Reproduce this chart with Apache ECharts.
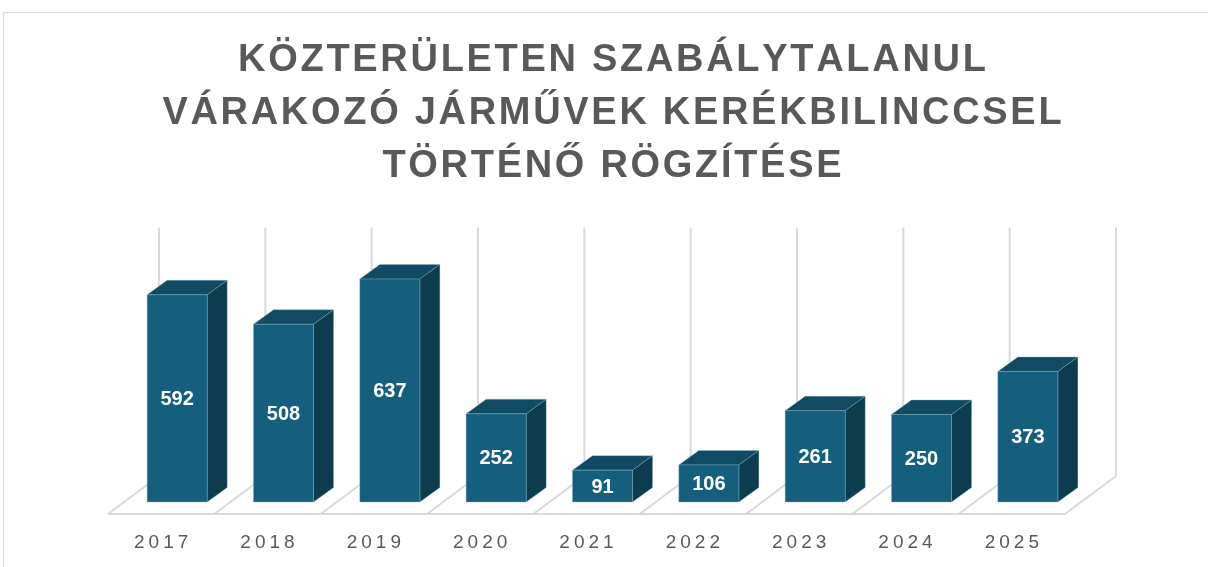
<!DOCTYPE html>
<html>
<head>
<meta charset="utf-8">
<title>Kerékbilincs</title>
<script src="https://cdn.jsdelivr.net/npm/echarts@6/dist/echarts.min.js"></script>
<style>
  html, body { margin: 0; padding: 0; background: #fff; }
  #chart { width: 1208px; height: 567px; }
</style>
</head>
<body>
<div id="chart"></div>
<script>
// adatok
var titleLines = ['KÖZTERÜLETEN SZABÁLYTALANUL', 'VÁRAKOZÓ JÁRMŰVEK KERÉKBILINCCSEL', 'TÖRTÉNŐ RÖGZÍTÉSE'];
var years = ['2017', '2018', '2019', '2020', '2021', '2022', '2023', '2024', '2025'];
var counts = [592, 508, 637, 252, 91, 106, 261, 250, 373];
var yMax = 710;

// 3D hatas: eltolasok a rudak sikjahoz kepest (px)
var FLOOR_FRONT = [-16, 12];
var FLOOR_BACK = [35, -26];
var BAR_DEPTH = [20, -14.5];

var FONT = 'Liberation Sans, Arial, sans-serif';
var GRID_COLOR = '#d9d9d9';
var FACE_COLOR = '#155f7e';
var TOP_COLOR = '#104a63';
var SIDE_COLOR = '#0c3c4e';

// betuk koze ritkitas rich text tokenekkel
function spaced(text, style) {
    return text.split('').map(function (c) {
        return '{' + style + '|' + c + '}';
    }).join('');
}

(function () {

var chart = echarts.init(document.getElementById('chart'));

// padlo es hatso fal vonalai
function renderFloor(params, api) {
    var i = api.value(0);
    var slot = api.size([1, 0])[0];
    var base = api.coord([i, 0]);
    var topY = api.coord([i, yMax])[1];
    var lineStyle = { stroke: GRID_COLOR, lineWidth: 2 };
    var children = [];

    function boundary(x) {
        children.push({
            type: 'line',
            shape: { x1: x + FLOOR_FRONT[0], y1: base[1] + FLOOR_FRONT[1], x2: x + FLOOR_BACK[0], y2: base[1] + FLOOR_BACK[1] },
            style: lineStyle
        });
        children.push({
            type: 'line',
            shape: { x1: x + FLOOR_BACK[0], y1: base[1] + FLOOR_BACK[1], x2: x + FLOOR_BACK[0], y2: topY + FLOOR_BACK[1] },
            style: lineStyle
        });
    }

    boundary(base[0] - slot / 2);
    if (i === years.length - 1) {
        boundary(base[0] + slot / 2);
    }
    if (i === 0) {
        var cs = params.coordSys;
        children.push({
            type: 'line',
            shape: { x1: cs.x + FLOOR_FRONT[0], y1: base[1] + FLOOR_FRONT[1], x2: cs.x + cs.width + FLOOR_FRONT[0], y2: base[1] + FLOOR_FRONT[1] },
            style: lineStyle
        });
    }
    return { type: 'group', children: children };
}

// hasab alaku rud
function renderBar(params, api) {
    var i = api.value(0), v = api.value(1);
    var base = api.coord([i, 0]);
    var top = api.coord([i, v]);
    var w = api.size([1, 0])[0] * 0.565;
    var x0 = base[0] - w / 2, x1 = base[0] + w / 2;
    var yb = base[1], yt = top[1];
    var dx = BAR_DEPTH[0], dy = BAR_DEPTH[1];
    var edge = 'rgba(140,180,200,0.45)';
    return {
        type: 'group',
        children: [
            {
                type: 'polygon',
                shape: { points: [[x0, yt], [x1, yt], [x1 + dx, yt + dy], [x0 + dx, yt + dy]] },
                style: { fill: TOP_COLOR, stroke: edge, lineWidth: 0.8 }
            },
            {
                type: 'polygon',
                shape: { points: [[x1, yt], [x1, yb], [x1 + dx, yb + dy], [x1 + dx, yt + dy]] },
                style: { fill: SIDE_COLOR, stroke: edge, lineWidth: 0.8 }
            },
            {
                type: 'rect',
                shape: { x: x0, y: yt, width: w, height: yb - yt },
                style: { fill: FACE_COLOR, stroke: edge, lineWidth: 0.8 }
            },
            {
                type: 'text',
                style: {
                    text: String(v),
                    x: base[0],
                    y: (yt + yb) / 2 + 1,
                    align: 'center',
                    verticalAlign: 'middle',
                    fill: '#ffffff',
                    fontSize: 20,
                    fontWeight: 'bold',
                    fontFamily: FONT
                }
            }
        ]
    };
}

option = {
    animation: false,
    backgroundColor: '#ffffff',
    title: {
        text: titleLines.map(function (l) { return spaced(l, 't'); }).join('\n'),
        left: 612,
        top: 34,
        padding: 0,
        textAlign: 'center',
        textStyle: {
            rich: {
                t: {
                    fontFamily: FONT,
                    fontWeight: 'bold',
                    fontSize: 38,
                    lineHeight: 53,
                    color: '#595959',
                    padding: [0, 1.35, 0, 1.35]
                }
            }
        }
    },
    graphic: [
        {
            type: 'rect',
            silent: true,
            shape: { x: 3.5, y: 12.5, width: 1400, height: 700 },
            style: { fill: 'none', stroke: '#d9d9d9', lineWidth: 1.2 }
        }
    ],
    grid: {
        left: 124,
        top: 253.5,
        width: 957,
        height: 248.5,
        containLabel: false
    },
    xAxis: {
        type: 'category',
        data: years,
        axisLine: { show: false },
        axisTick: { show: false },
        splitLine: { show: false },
        axisLabel: {
            interval: 0,
            margin: 31,
            padding: [0, 32, 0, 0],
            formatter: function (v) { return spaced(v, 'y'); },
            rich: {
                y: {
                    fontFamily: FONT,
                    fontSize: 19,
                    color: '#595959',
                    padding: [0, 2, 0, 2]
                }
            }
        }
    },
    yAxis: {
        type: 'value',
        min: 0,
        max: yMax,
        show: false,
        splitLine: { show: false }
    },
    series: [
        {
            name: 'padlo',
            type: 'custom',
            z: 1,
            silent: true,
            renderItem: renderFloor,
            encode: { x: 0, y: 1 },
            data: years.map(function (y, i) { return [i, 0]; })
        },
        {
            name: 'Kerékbilincs',
            type: 'custom',
            z: 2,
            renderItem: renderBar,
            encode: { x: 0, y: 1 },
            data: counts.map(function (c, i) { return [i, c]; })
        }
    ]
};

chart.setOption(option);
})();
</script>
</body>
</html>
